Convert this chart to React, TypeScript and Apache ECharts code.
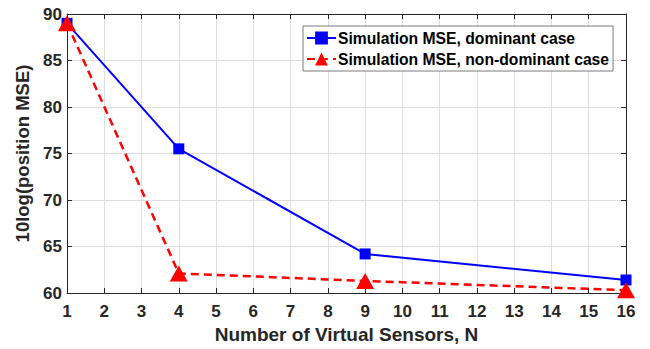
import React, { useEffect, useRef } from "react";
import * as echarts from "echarts";

const sensors = [1, 4, 9, 16];
const dominantMSE = [89.0, 75.5, 64.2, 61.4];
const nonDominantMSE = [89.0, 62.1, 61.3, 60.3];
const seriesNames = ["Simulation MSE, dominant case", "Simulation MSE, non-dominant case"];
const xTitle = "Number of Virtual Sensors, N";
const yTitle = "10log(position MSE)";

const FONT = "Liberation Sans, Arial, sans-serif";

export default function App() {
  const ref = useRef<HTMLDivElement>(null);
  useEffect(() => {
    if (!ref.current) return;
    const chart = echarts.init(ref.current, undefined, { renderer: "svg" });
    const axisLine = { show: true, lineStyle: { color: "#262626", width: 1 } };
    const tick = { show: true, inside: true, length: 5, lineStyle: { color: "#262626", width: 1 } };
    chart.setOption({
      animation: false,
      backgroundColor: "#ffffff",
      grid: { left: 67, right: 24, top: 14, bottom: 56, containLabel: false },
      legend: {
        left: 303,
        top: 26,
        orient: "vertical",
        backgroundColor: "#ffffff",
        borderColor: "#7a7a7a",
        borderWidth: 1,
        borderRadius: 0,
        padding: [4, 4, 4, 3],
        itemGap: 5,
        itemWidth: 29,
        itemHeight: 16,
        textStyle: { fontFamily: FONT, fontWeight: "bold", fontSize: 15.7, color: "#000000", padding: [0, 0, 0, -3] },
        data: seriesNames,
      },
      xAxis: [
        {
          type: "value",
          min: 1,
          max: 16,
          interval: 1,
          name: xTitle,
          nameLocation: "middle",
          nameGap: 21,
          nameTextStyle: { fontFamily: FONT, fontWeight: "bold", fontSize: 19, color: "#262626" },
          axisLine,
          axisTick: tick,
          axisLabel: { fontFamily: FONT, fontWeight: "bold", fontSize: 17, color: "#262626", margin: 10 },
          splitLine: { show: true, lineStyle: { color: "#dedede", width: 1 } },
        },
        {
          type: "value",
          position: "top",
          min: 1,
          max: 16,
          interval: 1,
          axisLine,
          axisTick: tick,
          axisLabel: { show: false },
          splitLine: { show: false },
        },
      ],
      yAxis: [
        {
          type: "value",
          min: 60,
          max: 90,
          interval: 5,
          name: yTitle,
          nameLocation: "middle",
          nameGap: 25,
          nameTextStyle: { fontFamily: FONT, fontWeight: "bold", fontSize: 18.5, color: "#262626" },
          axisLine,
          axisTick: tick,
          axisLabel: { fontFamily: FONT, fontWeight: "bold", fontSize: 17, color: "#262626", margin: 5 },
          splitLine: { show: true, lineStyle: { color: "#dedede", width: 1 } },
        },
        {
          type: "value",
          position: "right",
          min: 60,
          max: 90,
          interval: 5,
          axisLine,
          axisTick: tick,
          axisLabel: { show: false },
          splitLine: { show: false },
        },
      ],
      series: [
        {
          name: seriesNames[0],
          type: "line",
          data: sensors.map((s, i) => [s, dominantMSE[i]]),
          symbol: "rect",
          symbolSize: 11,
          lineStyle: { color: "#0000ff", width: 2 },
          itemStyle: { color: "#0000ff" },
          z: 2,
        },
        {
          name: seriesNames[1],
          type: "line",
          data: sensors.map((s, i) => [s, nonDominantMSE[i]]),
          symbol: "triangle",
          symbolSize: [18, 16],
          lineStyle: { color: "#ff0000", width: 2.5, type: [8, 5] },
          itemStyle: { color: "#ff0000" },
          z: 3,
        },
      ],
    });
    return () => chart.dispose();
  }, []);
  return (
    <div
      ref={ref}
      style={{ position: "fixed", left: 0, top: 0, width: 650, height: 349 }}
    />
  );
}
